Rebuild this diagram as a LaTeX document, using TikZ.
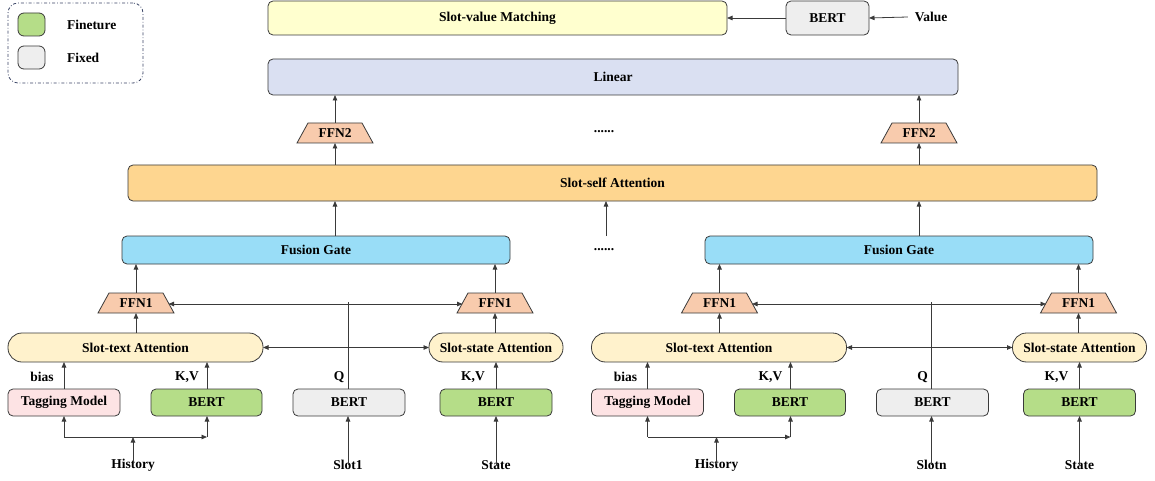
\documentclass[tikz,border=0pt]{standalone}
\usepackage{fontspec}
\setmainfont{Liberation Serif}
\usetikzlibrary{arrows.meta}
\definecolor{linec}{HTML}{3A3A3A}
\definecolor{svmc}{HTML}{FFFFCF}
\definecolor{fixc}{HTML}{EEEEEE}
\definecolor{linc}{HTML}{DAE0F2}
\definecolor{ffnc}{HTML}{F8CBAD}
\definecolor{ssc}{HTML}{FED690}
\definecolor{fgc}{HTML}{99DDF7}
\definecolor{attc}{HTML}{FFF2CC}
\definecolor{tagc}{HTML}{FDE3E4}
\definecolor{fine}{HTML}{B5DD88}
\definecolor{legc}{HTML}{3B4566}
\newcommand\ffnnode[3]{%
  \node[ffnbox] (#1) at (#2) {};
  \filldraw[fill=ffnc, draw=linec, line width=0.8pt] (#1.south west) -- (#1.south east)
     -- ([xshift=-11pt]#1.north east) -- ([xshift=11pt]#1.north west) -- cycle;
  \node[lbl] (#1t) at (#1) {#3};}
\begin{document}
\begin{tikzpicture}[x=1pt,y=-1pt,
  font=\fontsize{13.5}{16}\selectfont\bfseries,
  bx/.style={draw=linec, line width=0.8pt, rounded corners=5pt, inner sep=0pt, outer sep=0pt, minimum height=27pt},
  att/.style={bx, fill=attc, rounded corners=14pt, minimum height=29pt},
  ffnbox/.style={minimum width=76pt, minimum height=20pt, inner sep=0pt, outer sep=0pt},
  lbl/.style={inner sep=0pt, outer sep=0pt},
  ln/.style={draw=linec, line width=0.8pt},
  arr/.style={ln, -{Triangle[length=5.5pt,width=4.5pt]}},
  arrb/.style={ln, {Triangle[length=5.5pt,width=4.5pt]}-{Triangle[length=5.5pt,width=4.5pt]}}]
\useasboundingbox (0,0) rectangle (1155,481);

% legend
\node[draw=legc, line width=0.8pt, dash dot, rounded corners=10pt, minimum width=135pt, minimum height=80pt, inner sep=0pt] (leg) at (75.5,43) {};
\node[bx, fill=fine, rounded corners=6pt, minimum width=27pt, minimum height=23pt] (lg1) at (31.5,24.5) {};
\node[bx, fill=fixc, rounded corners=6pt, minimum width=27pt, minimum height=23pt] (lg2) at (31.5,57.5) {};
\node[lbl, anchor=west] (lt1) at (67,25) {Fineture};
\node[lbl, anchor=west] (lt2) at (67,58) {Fixed};

% top
\node[bx, fill=svmc, minimum width=459pt, minimum height=34pt] (svm) at (497.5,18) {Slot-value Matching};
\node[bx, fill=fixc, minimum width=83pt, minimum height=34pt] (bv) at (827.5,18) {BERT};
\node[lbl] (val) at (931,17) {Value};
\draw[arr] ([xshift=-7pt]val.west) -- (bv.east);
\draw[arr] (bv.west) -- (svm.east);

\node[bx, fill=linc, minimum width=690pt, minimum height=36pt] (lin) at (613,77) {Linear};
\ffnnode{ffa}{335,133}{FFN2}
\ffnnode{ffb}{919,133}{FFN2}
\node[lbl] (d1) at (604,132) {......};
\node[bx, fill=ssc, minimum width=969pt, minimum height=36pt] (ss) at (612.5,183) {Slot-self Attention};
\node[bx, fill=fgc, minimum width=388pt, minimum height=28pt] (fga) at (316,250) {Fusion Gate};
\node[bx, fill=fgc, minimum width=388pt, minimum height=28pt] (fgb) at (899,250) {Fusion Gate};
\node[lbl] (d2) at (604,250) {......};
\coordinate (mid) at (606,236);

\draw[arr] (ffa.north) -- (ffa.north |- lin.south);
\draw[arr] (ffb.north) -- (ffb.north |- lin.south);
\draw[arr] (ss.north -| ffa.south) -- (ffa.south);
\draw[arr] (ss.north -| ffb.south) -- (ffb.south);
\draw[arr] (fga.north -| ffa.south) -- (ss.south -| ffa.south);
\draw[arr] (fgb.north -| ffb.south) -- (ss.south -| ffb.south);
\draw[arr] (mid) -- (mid |- ss.south);

\foreach \o/\s/\sl in {0/a/Slot1, 583.5/b/Slotn} {
  \ffnnode{fl\s}{\o+136,303}{FFN1}
  \ffnnode{fr\s}{\o+495,303}{FFN1}
  \node[att, minimum width=255pt] (sta\s) at (\o+135.5,347.5) {Slot-text Attention};
  \node[att, minimum width=134pt] (ssa\s) at (\o+496,347.5) {Slot-state Attention};
  \node[bx, fill=tagc, minimum width=112pt] (tag\s) at (\o+64,402.5) {Tagging Model};
  \node[bx, fill=fine, minimum width=111pt] (bh\s) at (\o+206.5,402.5) {BERT};
  \node[bx, fill=fixc, minimum width=112pt] (bq\s) at (\o+349,402.5) {BERT};
  \node[bx, fill=fine, minimum width=112pt] (bs\s) at (\o+496,402.5) {BERT};
  \node[lbl] (bias\s) at (\o+42,377) {bias};
  \node[lbl] (kva\s) at (\o+187,377) {K,V};
  \node[lbl] (q\s) at (\o+339,377) {Q};
  \node[lbl] (kvb\s) at (\o+473,377) {K,V};
  \node[lbl] (hist\s) at (\o+133,465) {History};
  \node[lbl] (slot\s) at (\o+348,465) {\sl};
  \node[lbl] (state\s) at (\o+496,465) {State};
  \coordinate (j\s) at (\o+133,437);
  \coordinate (jl\s) at (\o+64,437);
  \coordinate (jr\s) at (\o+207,437);
  \coordinate (qt\s) at (\o+348,302);
  \draw[arr] ([yshift=-5pt]hist\s.north) -- (j\s);
  \draw[ln] (j\s) -- (jl\s);
  \draw[arr] (jl\s) -- (jl\s |- tag\s.south);
  \draw[arr] (j\s) -- (jr\s);
  \draw[arr] (jr\s) -- (jr\s |- bh\s.south);
  \draw[arr] (tag\s.north) -- (tag\s.north |- sta\s.south);
  \draw[arr] (jr\s |- bh\s.north) -- (jr\s |- sta\s.south);
  \draw[arr] ([yshift=-5pt]slot\s.north) -- (slot\s.north |- bq\s.south);
  \draw[arr] ([yshift=-5pt]state\s.north) -- (state\s.north |- bs\s.south);
  \draw[arr] (bs\s.north) -- (ssa\s.south);
  \draw[arr] (fl\s.south |- sta\s.north) -- (fl\s.south);
  \draw[arr] (fr\s.south |- ssa\s.north) -- (fr\s.south);
  \draw[arr] (fl\s.north) -- (fl\s.north |- fg\s.south);
  \draw[arr] (fr\s.north) -- (fr\s.north |- fg\s.south);
  \draw[arrb] (sta\s.east) -- (ssa\s.west);
  \draw[arrb] ([xshift=-5.5pt,yshift=-1pt]fl\s.east) -- ([xshift=5.5pt,yshift=-1pt]fr\s.west);
  \draw[ln] (qt\s |- bq\s.north) -- (qt\s);
}
\end{tikzpicture}
\end{document}
